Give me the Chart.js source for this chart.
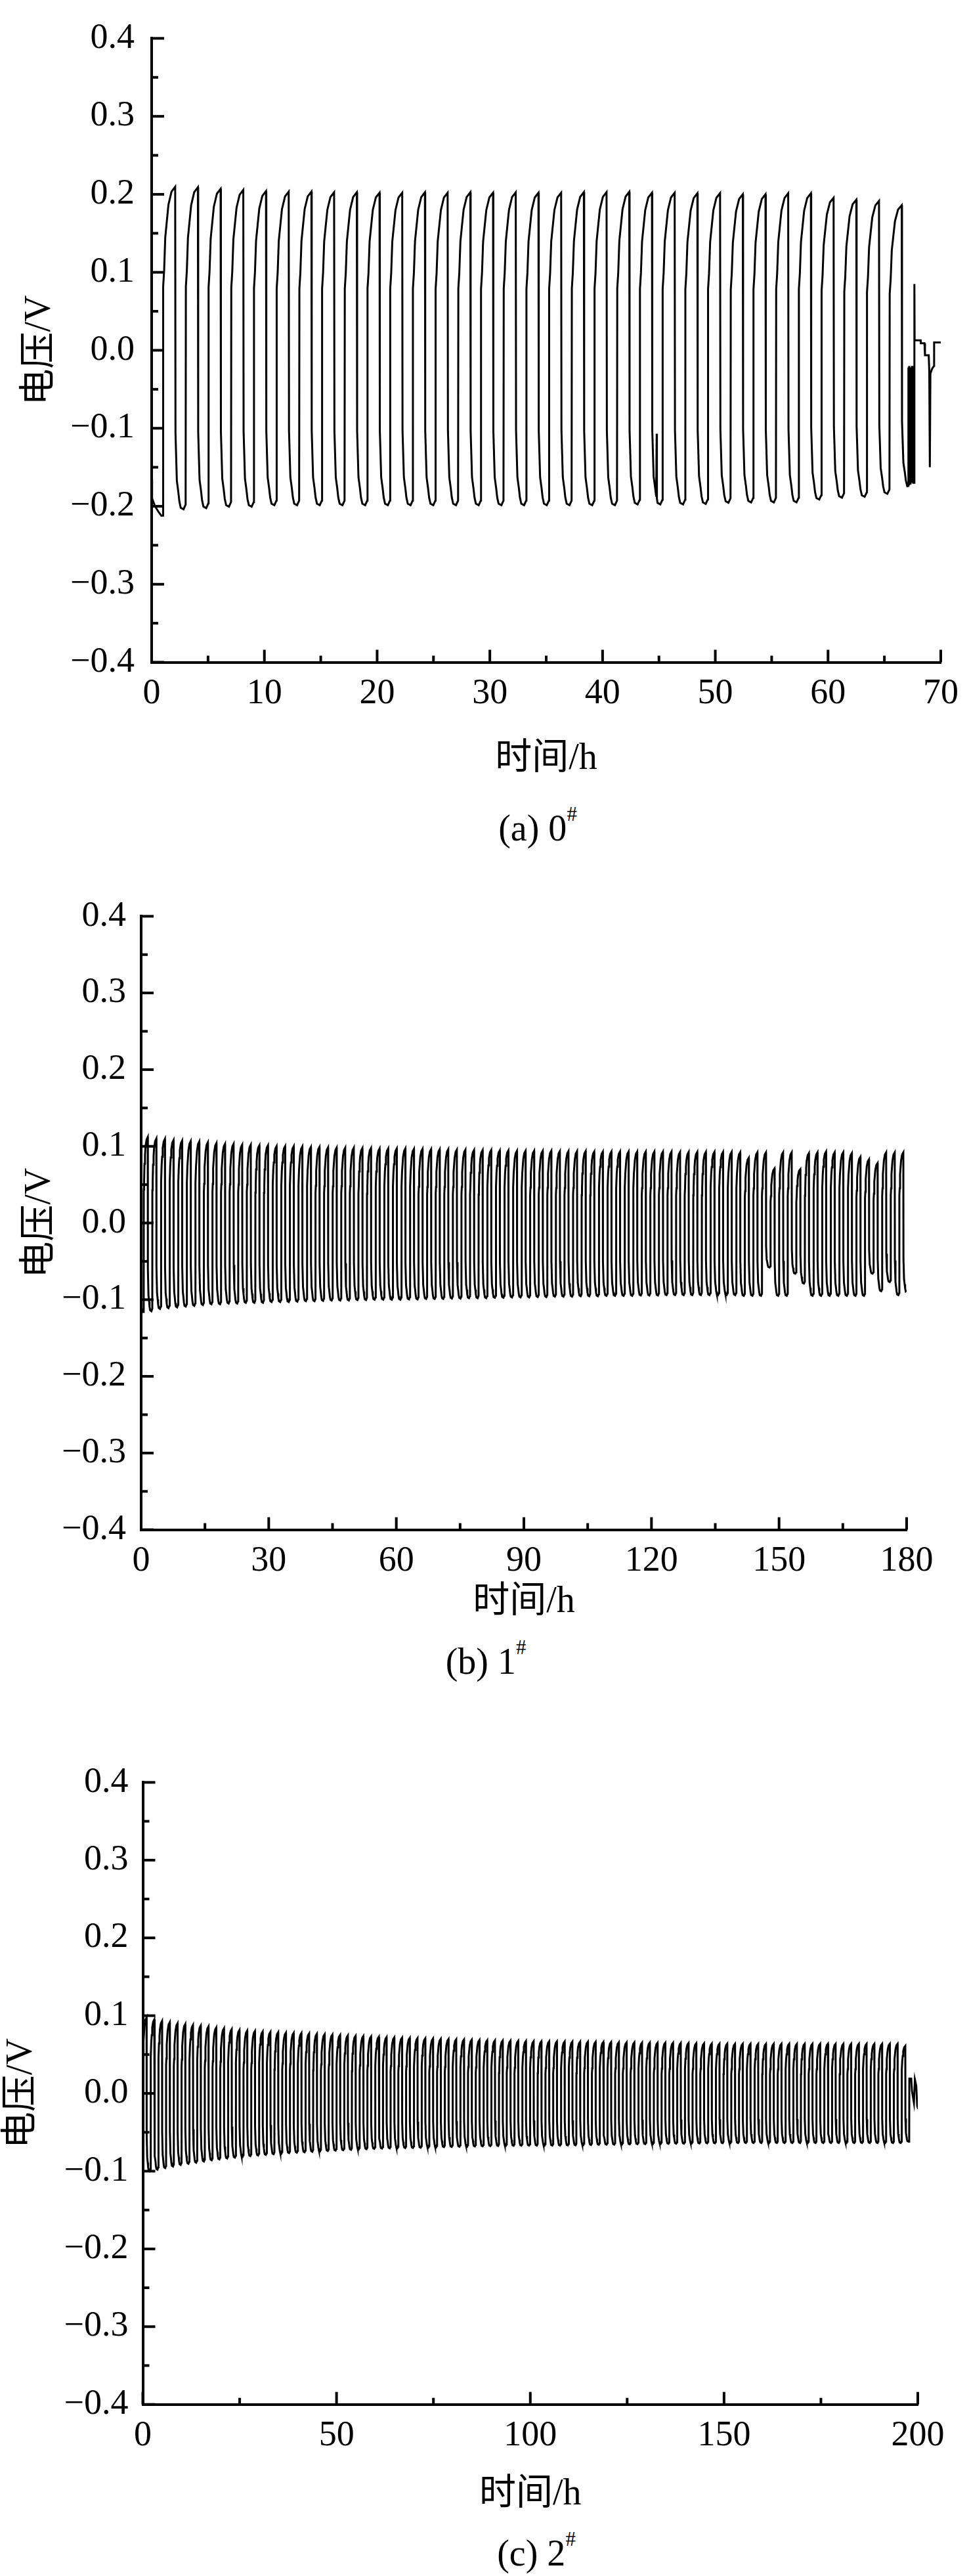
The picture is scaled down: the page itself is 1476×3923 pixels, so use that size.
<!DOCTYPE html>
<html><head><meta charset="utf-8">
<script src="https://cdn.jsdelivr.net/npm/chart.js@4.4.1/dist/chart.umd.min.js"></script>
<style>
html,body{margin:0;padding:0;background:#fff;}
body{width:1476px;height:3923px;position:relative;overflow:hidden;font-family:"Liberation Serif","Noto Sans CJK SC",serif;color:#000;}
canvas{position:absolute;left:0;}
.cap{position:absolute;font-size:56px;line-height:1;transform:translate(-50%,-50%);white-space:nowrap;}
.cap sup{font-size:0.55em;position:relative;top:-0.25em;vertical-align:top;}
</style></head>
<body>
<canvas id="ca" width="1476" height="1195" style="top:0px"></canvas>
<div class="cap" style="left:819px;top:1261px">(a) 0<sup>#</sup></div>
<canvas id="cb" width="1476" height="1139" style="top:1340px"></canvas>
<div class="cap" style="left:740px;top:2530px">(b) 1<sup>#</sup></div>
<canvas id="cc" width="1476" height="1178" style="top:2660px"></canvas>
<div class="cap" style="left:817px;top:3888px">(c) 2<sup>#</sup></div>
<script>
// ---------- shape of one charge/discharge cycle ----------
const CHARGE_T = [0.02, 0.10, 0.19, 0.32, 0.45, 0.70, 1.00];   // fraction of the charge half
const CHARGE_F = [0.39, 0.49, 0.69, 0.79, 0.89, 0.97, 1.00];   // fraction of the cycle peak
const DISCH_T  = [0.03, 0.16, 0.30, 0.40, 0.53, 0.80, 1.00];   // fraction of the discharge half
const DISCH_F  = [0.52, 0.82, 0.89, 0.95, 0.99, 1.00, 0.97];   // fraction of the cycle trough

// ---------- panel (a) 0# ----------
const A_X_TICKS = [0, 70, 10];
const A_PERIOD = 2.014, A_FIRST = 1.0, A_CHARGE = 1.087;
const A_START = [[0,-0.165],[0.04,-0.19],[0.3,-0.2],[0.6,-0.207],[0.85,-0.212],[1.0,-0.212]];
const A_PEAKS = [0.2097,0.209,0.207,0.2056,0.204,0.2034,0.2034,0.2025,0.2025,0.202,0.202,0.2025,0.202,0.2025,
  0.202,0.2025,0.202,0.202,0.2028,0.2028,0.2031,0.202,0.202,0.2013,0.2016,0.200,0.200,0.2013,0.2013,0.1955,0.193,0.1915,0.186];
const A_TROUGHS = [-0.204,-0.2024,-0.2006,-0.2006,
  -0.1987,-0.1987,-0.1987,-0.1987,-0.1987,-0.1987,-0.1987,-0.1987,-0.1987,-0.1987,-0.1987,-0.1987,-0.1987,-0.1987,-0.1987,-0.1987,
  -0.1976,-0.1976,-0.1976,-0.197,-0.1955,-0.1951,-0.1951,-0.195,-0.1914,-0.189,-0.1878,-0.184,-0.176];
const A_EXTRA = [[44.80,-0.107],[44.82,-0.19]];
const A_TAIL = [[67.1,-0.174],[67.13,-0.022],[67.17,-0.172],[67.2,-0.02],[67.24,-0.17],[67.28,-0.025],[67.32,-0.172],
  [67.36,-0.022],[67.4,-0.168],[67.44,-0.02],[67.48,-0.17],[67.52,-0.025],[67.56,-0.17],[67.6,-0.022],[67.64,-0.17],
  [67.66,0.085],[67.68,0.0127],[68.22,0.0127],[68.23,0.009],[68.55,0.009],[68.6,-0.0064],[68.93,-0.0064],[68.98,-0.027],
  [69.03,-0.15],[69.08,-0.03],[69.22,-0.024],[69.4,-0.02],[69.41,0.010],[70.1,0.010]];

// ---------- panel (b) 1# ----------
const B_X_TICKS = [0, 180, 30];
const B_PERIOD = 2.019, B_FIRST = 0.6, B_CHARGE = 0.95;
const B_START = [[0,-0.088],[0.06,-0.11],[0.3,-0.116],[0.6,-0.116]];
const B_PEAKS = [0.112,0.110,0.1095,0.108,0.107,0.1065,0.106,0.105,0.104,0.103,0.103,0.102,0.102,0.101,0.101,0.100,0.100,
  0.100,0.0995,0.099,0.099,0.0985,0.098,0.098,0.098,0.0975,0.0975,0.097,0.097,0.097,
  0.097,0.0965,0.0965,0.096,0.096,0.096,0.0955,0.0955,0.095,0.095,0.095,0.0945,0.0945,0.094,0.094,
  0.094,0.094,0.094,0.0935,0.0935,0.0935,0.0935,0.093,0.093,0.093,0.093,0.093,0.093,0.093,0.093,0.093,0.093,0.0925,0.0925,0.0925,0.0925,0.0925,0.0925,0.0925,
  0.092,0.085,0.092,0.092,0.071,0.092,0.092,0.070,0.091,0.092,0.093,0.092,0.092,0.091,0.086,0.083,0.078,0.092,0.092,0.092];
const B_TROUGHS = [-0.115,-0.112,-0.111,-0.110,-0.109,-0.108,-0.107,-0.106,-0.106,-0.105,-0.105,-0.104,-0.104,-0.104,-0.103,-0.103,-0.103,
  -0.1025,-0.102,-0.102,-0.1015,-0.101,-0.101,-0.101,-0.1005,-0.1005,-0.100,-0.100,-0.100,-0.100,
  -0.0995,-0.0995,-0.099,-0.099,-0.099,-0.0985,-0.0985,-0.098,-0.098,-0.098,-0.0975,-0.0975,-0.097,-0.097,-0.097,
  -0.0965,-0.0965,-0.096,-0.096,-0.096,-0.0955,-0.0955,-0.0955,-0.095,-0.095,-0.095,-0.095,-0.0945,-0.0945,-0.0945,-0.094,-0.094,-0.094,-0.094,-0.094,-0.094,-0.094,-0.094,-0.094,
  -0.095,-0.095,-0.095,-0.058,-0.095,-0.095,-0.066,-0.079,-0.095,-0.095,-0.095,-0.095,-0.095,-0.095,-0.095,-0.066,-0.089,-0.077,-0.094,-0.090];
const B_EXTRA = [];
const B_TAIL = [[180.0,-0.088]];

// ---------- panel (c) 2# ----------
const C_X_TICKS = [0, 200, 50];
const C_PERIOD = 1.998, C_FIRST = 0.0, C_CHARGE = 0.97;
const C_START = [[0,-0.04]];
const C_PEAKS = [0.0975,0.095,0.093,0.0915,0.090,0.089,0.088,0.087,0.086,0.0845,0.0835,0.0825,0.0815,
  0.0806,0.080,0.0795,0.079,0.0785,0.078,0.0778,0.0775,
  0.077,0.0765,0.076,0.0755,0.075,0.0745,0.074,0.0735,
  0.073,0.0727,0.0723,0.072,0.0716,0.0713,0.071,0.0707,
  0.0704,0.0701,0.0698,0.0695,0.0692,0.0689,0.0686,0.0683,
  0.068,0.0678,0.0676,0.0674,0.0672,0.067,0.0669,0.0668,
  0.0667,0.0666,0.0665,0.0664,0.0663,0.0662,0.0660,0.0658,
  0.0656,0.0655,0.0654,0.0653,0.0652,0.0651,0.065,0.0649,
  0.0648,0.0646,0.0644,0.0642,0.064,0.0639,0.0638,0.0637,
  0.0637,0.0637,0.0637,0.0637,0.0637,0.0637,0.0637,0.0637,0.0637,0.0637,0.0637,
  0.0637,0.0637,0.0637,0.0637,0.0637,0.0637,0.0637,0.0637,0.0637,0.0637,0.061];
const C_TROUGHS = [-0.100,-0.098,-0.096,-0.094,-0.092,-0.0905,-0.089,-0.0875,-0.086,-0.0848,-0.0836,-0.0825,-0.0815,-0.0806,
  -0.0798,-0.079,-0.0782,-0.0775,-0.0768,-0.0762,-0.0756,-0.075,
  -0.0745,-0.074,-0.0735,-0.073,-0.0725,-0.072,-0.0716,-0.0712,
  -0.0709,-0.0706,-0.0704,-0.0702,-0.070,-0.0698,-0.0696,-0.0693,
  -0.069,-0.0688,-0.0686,-0.0684,-0.0682,-0.068,-0.0678,-0.0675,
  -0.0674,-0.0673,-0.0672,-0.0672,-0.0671,-0.0671,-0.067,-0.067,
  -0.0668,-0.0666,-0.0664,-0.0662,-0.066,-0.0659,-0.0658,-0.0656,
  -0.0655,-0.0653,-0.0652,-0.065,-0.0649,-0.0648,-0.0646,-0.0645,
  -0.0644,-0.0643,-0.0642,-0.0641,-0.064,-0.0639,-0.0638,
  -0.0637,-0.0637,-0.0637,-0.0637,-0.0637,-0.0637,-0.0637,-0.0637,-0.0637,-0.0637,-0.0637,
  -0.0637,-0.0637,-0.0637,-0.0637,-0.0637,-0.0637,-0.0637,-0.0637,-0.0637,-0.0637,-0.062];
const C_EXTRA = [];
const C_TAIL = [[197.78,-0.062],[197.82,0.019],[198.3,0.019],[198.5,0.003],[199.0,-0.012],[199.25,0.018],[199.6,0.010],[199.85,-0.016],[200.1,-0.02]];

// ---------- Y axis (shared) ----------
const Y_TICKS = [-0.4, 0.4, 0.1];
const X_TITLE = '时间/h';
const Y_TITLE = '电压/V';

// ---------- build series from the values above ----------
function buildSeries(start, first, period, charge, peaks, troughs, extra, tail) {
  const pts = start.map(([x, y]) => ({x, y}));
  for (let k = 0; k < peaks.length; k++) {
    const r = first + k * period;
    CHARGE_T.forEach((f, i) => pts.push({x: r + f * charge, y: CHARGE_F[i] * peaks[k]}));
    const p = r + charge, d = period - charge;
    DISCH_T.forEach((f, i) => pts.push({x: p + f * d, y: DISCH_F[i] * troughs[k]}));
  }
  extra.forEach(([x, y]) => pts.push({x, y}));
  pts.sort((a, b) => a.x - b.x);
  const cut = tail.length ? tail[0][0] : Infinity;
  const out = pts.filter(p => p.x < cut);
  tail.forEach(([x, y]) => out.push({x, y}));
  return out;
}

const FAMILY = "'Liberation Serif','Noto Sans CJK SC',serif";
const TICK_FONT = {family: FAMILY, size: 54};
const TITLE_FONT = {family: FAMILY, size: 56};

const inwardTicks = {
  id: 'inwardTicks',
  afterDraw(chart) {
    const {ctx, chartArea: a, scales: {x, y}} = chart;
    const MAJ = 19, MIN = 10;
    ctx.save();
    ctx.strokeStyle = '#000'; ctx.lineWidth = 4; ctx.lineCap = 'butt';
    const seg = (x1, y1, x2, y2) => { ctx.beginPath(); ctx.moveTo(x1, y1); ctx.lineTo(x2, y2); ctx.stroke(); };
    const xv = x.ticks.map(t => t.value);
    xv.forEach((v, i) => {
      const px = x.getPixelForValue(v);
      seg(px, a.bottom, px, a.bottom - MAJ);
      if (i < xv.length - 1) { const m = x.getPixelForValue((v + xv[i + 1]) / 2); seg(m, a.bottom, m, a.bottom - MIN); }
    });
    const yv = y.ticks.map(t => t.value);
    yv.forEach((v, i) => {
      const py = y.getPixelForValue(v);
      seg(a.left, py, a.left + MAJ, py);
      if (i < yv.length - 1) { const m = y.getPixelForValue((v + yv[i + 1]) / 2); seg(a.left, m, a.left + MIN, m); }
    });
    ctx.restore();
  }
};

function fmtY(v) {
  if (Math.abs(v) < 1e-9) return '0.0';
  return (v < 0 ? '\u2212' : '') + Math.abs(v).toFixed(1);
}

function makeChart(id, data, xt, geo) {
  new Chart(document.getElementById(id), {
    type: 'line',
    data: {datasets: [{data, borderColor: '#000', borderWidth: 3, pointRadius: 0, tension: 0, fill: false}]},
    options: {
      responsive: false, animation: false, events: [], parsing: false, normalized: true,
      layout: {padding: {top: geo.top, right: geo.right, bottom: 0, left: 0}},
      plugins: {legend: {display: false}, tooltip: {enabled: false}},
      scales: {
        x: {
          type: 'linear', min: xt[0], max: xt[1],
          ticks: {stepSize: xt[2], font: TICK_FONT, color: '#000', padding: 16, maxRotation: 0, autoSkip: false, callback: v => String(v)},
          grid: {display: false, drawTicks: false},
          border: {display: true, color: '#000', width: 4},
          title: {display: true, text: X_TITLE, font: TITLE_FONT, color: '#000', padding: {top: 0, bottom: 5}},
          afterFit: s => { s.height = geo.xh; }
        },
        y: {
          type: 'linear', min: Y_TICKS[0], max: Y_TICKS[1],
          ticks: {stepSize: Y_TICKS[2], font: TICK_FONT, color: '#000', padding: geo.yp, callback: fmtY},
          grid: {display: false, drawTicks: false},
          border: {display: true, color: '#000', width: 4},
          title: {display: true, text: Y_TITLE, font: TITLE_FONT, color: '#000', padding: {top: geo.ytp, bottom: 0}},
          afterFit: s => { s.width = geo.left; }
        }
      }
    },
    plugins: [inwardTicks]
  });
}

makeChart('ca', buildSeries(A_START, A_FIRST, A_PERIOD, A_CHARGE, A_PEAKS, A_TROUGHS, A_EXTRA, A_TAIL), A_X_TICKS,
  {top: 33, right: 29, left: 231, xh: 186.5, yp: 26, ytp: 28});
makeChart('cb', buildSeries(B_START, B_FIRST, B_PERIOD, B_CHARGE, B_PEAKS, B_TROUGHS, B_EXTRA, B_TAIL), B_X_TICKS,
  {top: 47.4, right: 95, left: 215, xh: 149.4, yp: 23, ytp: 28});
makeChart('cc', buildSeries(C_START, C_FIRST, C_PERIOD, C_CHARGE, C_PEAKS, C_TROUGHS, C_EXTRA, C_TAIL), C_X_TICKS,
  {top: 49.4, right: 78, left: 217.5, xh: 176.3, yp: 22, ytp: 0});
</script>
</body></html>
